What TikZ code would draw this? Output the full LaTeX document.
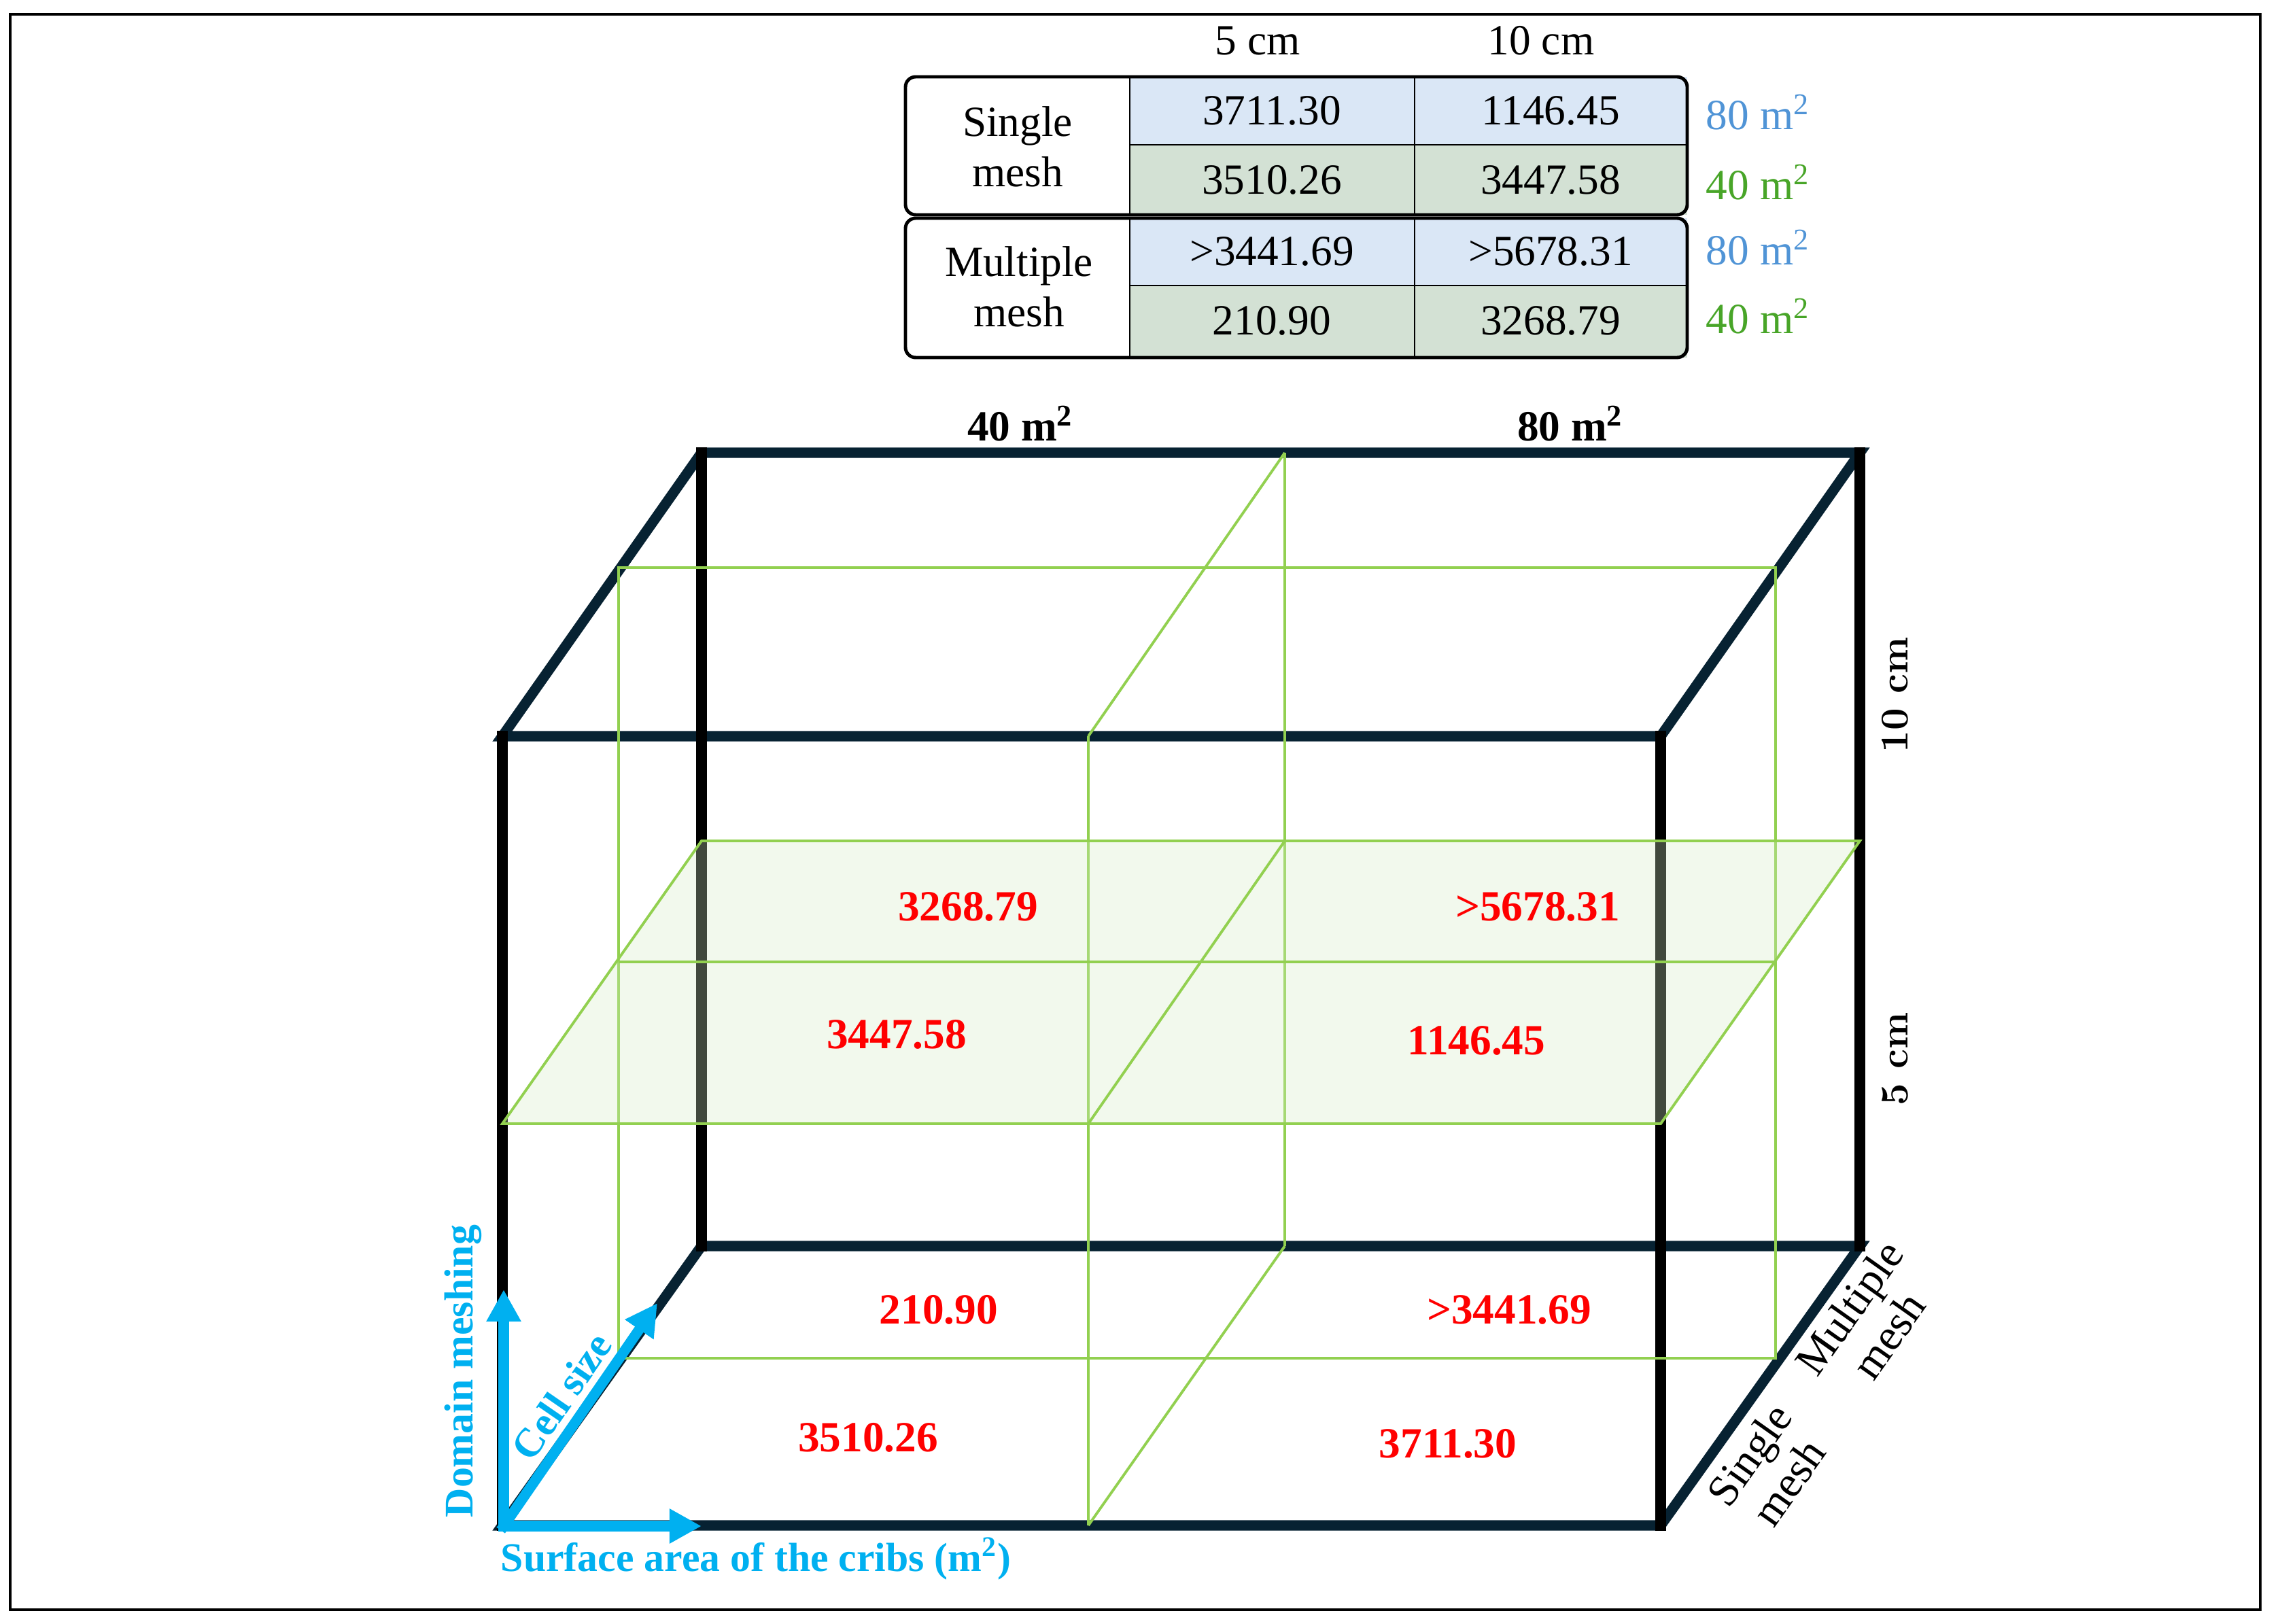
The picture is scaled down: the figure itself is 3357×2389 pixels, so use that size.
\documentclass[tikz,border=0pt]{standalone}
\usepackage{fontspec}
\newfontfamily\pal{Liberation Serif}
\usetikzlibrary{arrows.meta}
\definecolor{navy}{RGB}{7,34,50}
\definecolor{lgreen}{RGB}{146,208,80}
\definecolor{cyanax}{RGB}{0,176,240}
\definecolor{cellblue}{RGB}{218,231,246}
\definecolor{cellgreen}{RGB}{211,225,212}
\definecolor{lblblue}{RGB}{80,148,214}
\definecolor{lblgreen}{RGB}{72,165,40}
\definecolor{planefill}{RGB}{213,236,197}
\begin{document}
\begin{tikzpicture}[x=0.01cm,y=-0.01cm,
  cubeh/.style={line width=4.3pt,navy,line join=miter},
  cubev/.style={line width=4.3pt,black,line cap=rect},
  grn/.style={line width=1.1pt,lgreen},
  axarrow/.style={line width=4.3pt,cyanax,line cap=rect,-{Triangle[length=0.47cm,width=0.48cm]}},
  tabtext/.style={font=\pal\fontsize{18}{21}\selectfont,align=center,inner sep=0pt},
  rlblue/.style={tabtext,text=lblblue},
  rlgreen/.style={tabtext,text=lblgreen},
  val/.style={font=\pal\bfseries\fontsize{18}{21}\selectfont,text=red,inner sep=0pt},
  toplbl/.style={font=\pal\bfseries\fontsize{18}{21}\selectfont,inner sep=0pt},
  sidelbl/.style={font=\bfseries\fontsize{16.5}{19}\selectfont,inner sep=0pt,rotate=90},
  meshlbl/.style={font=\pal\fontsize{18.5}{20}\selectfont,align=center,inner sep=0pt,rotate=54.7},
  axlbl/.style={font=\pal\bfseries\fontsize{17}{20}\selectfont,text=cyanax,inner sep=0pt}
]
\useasboundingbox (0,0) rectangle (3357,2389);
% outer frame
\draw[line width=1pt] (15,21) rectangle (3325,2368);

% ---------- table ----------
\fill[cellblue]  (1662,113) rectangle (2482,213);
\fill[cellgreen] (1662,213) rectangle (2482,316);
\fill[cellblue]  (1662,321) rectangle (2482,420);
\fill[cellgreen] (1662,420) rectangle (2482,526);
\draw[line width=0.6pt] (1662,113) -- (1662,316) (2081,113) -- (2081,316) (1662,213) -- (2482,213);
\draw[line width=0.6pt] (1662,321) -- (1662,526) (2081,321) -- (2081,526) (1662,420) -- (2482,420);
\draw[line width=1.4pt,rounded corners=0.15cm] (1332,113) rectangle (2482,316);
\draw[line width=1.4pt,rounded corners=0.15cm] (1332,321) rectangle (2482,526);

\node[tabtext] (h5) at (1850,60) {5 cm};
\node[tabtext] (h10) at (2267,60) {10 cm};
\node[tabtext] (g1) at (1497,216) {Single\\mesh};
\node[tabtext] (g2) at (1499,422) {Multiple\\mesh};
\node[tabtext] (c11) at (1871,163) {3711.30};
\node[tabtext] (c12) at (2281,163) {1146.45};
\node[tabtext] (c21) at (1871,265) {3510.26};
\node[tabtext] (c22) at (2281,265) {3447.58};
\node[tabtext] (c31) at (1871,370) {>3441.69};
\node[tabtext] (c32) at (2281,370) {>5678.31};
\node[tabtext] (c41) at (1871,472) {210.90};
\node[tabtext] (c42) at (2281,472) {3268.79};
\node[rlblue]  (r1) at (2586,165) {80 m\textsuperscript{2}};
\node[rlgreen] (r2) at (2586,268) {40 m\textsuperscript{2}};
\node[rlblue]  (r3) at (2586,364) {80 m\textsuperscript{2}};
\node[rlgreen] (r4) at (2586,465) {40 m\textsuperscript{2}};

% ---------- cube ----------
\coordinate (F1) at (739,2244);
\coordinate (F2) at (2443,2244);
\coordinate (F3) at (2443,1083);
\coordinate (F4) at (739,1083);
\coordinate (B1) at (1032,1833);
\coordinate (B2) at (2736,1833);
\coordinate (B3) at (2736,666);
\coordinate (B4) at (1032,666);
\draw[cubeh] (F4) -- (B4) -- (B3) -- (F3) -- cycle;
\draw[cubeh] (F1) -- (B1) -- (B2) -- (F2) -- cycle;
\draw[cubev] (B4) -- (B1);
\draw[cubev] (B3) -- (B2);
\draw[cubev] (F4) -- (F1);
\draw[cubev] (F3) -- (F2);

% green grid
\coordinate (M1) at (910,835);
\coordinate (M2) at (2612,1998);
\coordinate (MF1) at (1601,1083);
\coordinate (MF2) at (1601,2244);
\coordinate (MB1) at (1890,666);
\coordinate (MB2) at (1890,1833);
\draw[grn] (M1) rectangle (M2);
\draw[grn] (MF1) -- (MF2);
\draw[grn] (MB1) -- (MB2);
\draw[grn] (MF1) -- (MB1);
\draw[grn] (MF2) -- (MB2);

% mid-height plane
\coordinate (P1) at (739,1653);
\coordinate (P2) at (2443,1653);
\coordinate (P3) at (2736,1237);
\coordinate (P4) at (1032,1237);
\coordinate (PF) at (1601,1653);
\coordinate (PB) at (1890,1237);
\coordinate (PL) at (910,1415);
\coordinate (PR) at (2612,1415);
\fill[planefill,fill opacity=0.31] (P1) -- (P2) -- (P3) -- (P4) -- cycle;
\draw[grn] (P1) -- (P2) -- (P3) -- (P4) -- cycle;
\draw[grn] (PF) -- (PB);
\draw[grn] (PL) -- (PR);

% axes
\coordinate (O) at (741,2245);
\coordinate (AxV) at (741,1897);
\coordinate (AxD) at (967,1917);
\coordinate (AxH) at (1032,2245);
\draw[axarrow] (O) -- (AxV);
\draw[axarrow] (O) -- (AxD);
\draw[axarrow] (O) -- (AxH);

% values
\node[val] (v1) at (1424,1334) {3268.79};
\node[val] (v2) at (2262,1334) {>5678.31};
\node[val] (v3) at (1319,1522) {3447.58};
\node[val] (v4) at (2172,1531) {1146.45};
\node[val] (v5) at (1381,1927) {210.90};
\node[val] (v6) at (2220,1927) {>3441.69};
\node[val] (v7) at (1277,2115) {3510.26};
\node[val] (v8) at (2130,2124) {3711.30};

% labels
\node[toplbl] (t40) at (1501,623) {40 m\textsuperscript{2}};
\node[toplbl] (t80) at (2310,623) {80 m\textsuperscript{2}};
\node[sidelbl] (s10) at (2788,1022) {10 cm};
\node[sidelbl] (s5) at (2788,1558) {5 cm};
\node[meshlbl] (dsingle) at (2602,2160) {Single\\mesh};
\node[meshlbl] (dmult) at (2749,1944) {Multiple\\mesh};
\node[axlbl,rotate=90] (ldomain) at (681,2017) {Domain meshing};
\node[axlbl,rotate=55.4] (lcell) at (826,2054) {Cell size};
\node[axlbl] (lsurf) at (1112,2293) {Surface area of the cribs (m\textsuperscript{2})};
\end{tikzpicture}
\end{document}
